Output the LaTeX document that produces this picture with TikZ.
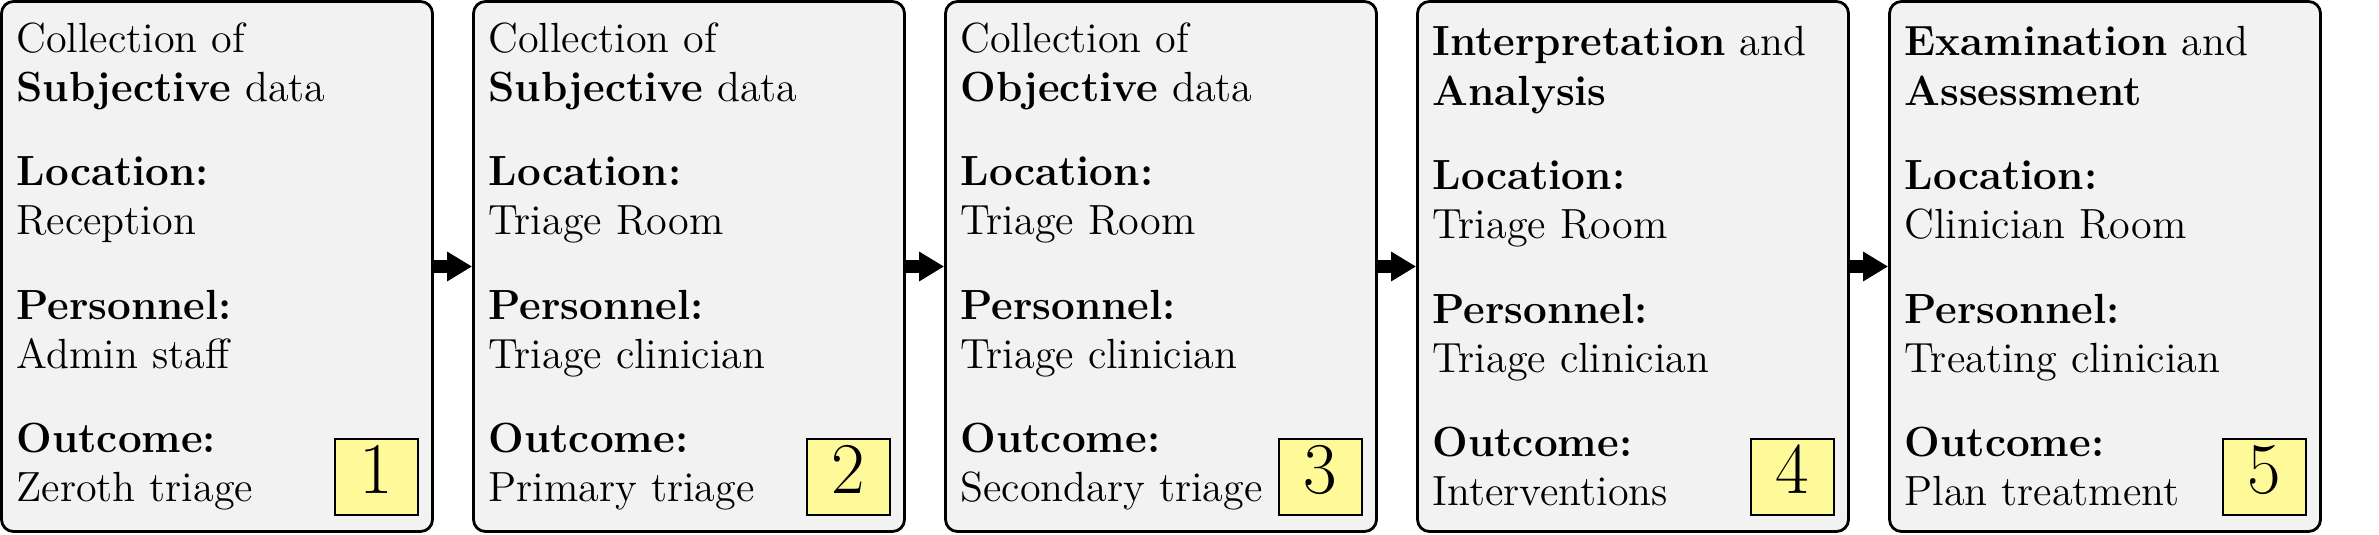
\documentclass[tikz,border=0pt]{standalone}
\usetikzlibrary{arrows.meta}

\tikzset{
  stage/.style={draw, thick, rounded corners=0.12cm, fill=gray!10,
    text width=4.01cm, inner xsep=0.15cm, minimum height=5.30cm,
    align=left, font=\large},
  stagenum/.style={draw, semithick, fill=yellow!40, inner sep=0pt,
    minimum width=0.83cm, minimum height=0.76cm, text depth=4.2pt, font=\huge},
  flow/.style={line width=0.13cm, -{Triangle[length=0.25cm,width=0.28cm]}}
}

\begin{document}
\begin{tikzpicture}
\useasboundingbox (0,0) rectangle (23.79,5.34);

% the five stages
\foreach \head/\place/\staff/\result [count=\i] in {
  {Collection of\\\textbf{Subjective} data}/{Reception}/{Admin staff}/{Zeroth triage},
  {Collection of\\\textbf{Subjective} data}/{Triage Room}/{Triage clinician}/{Primary triage},
  {Collection of\\\textbf{Objective} data}/{Triage Room}/{Triage clinician}/{Secondary triage},
  {\textbf{Interpretation} and\\\textbf{Analysis}}/{Triage Room}/{Triage clinician}/{Interventions},
  {\textbf{Examination} and\\\textbf{Assessment}}/{Clinician Room}/{Treating clinician}/{Plan treatment}}
  {
    \node[stage] (s\i) at ({2.17+(\i-1)*4.72},2.675)
      {\head\\[10pt]
       \textbf{Location:}\\\place\\[10pt]
       \textbf{Personnel:}\\\staff\\[10pt]
       \textbf{Outcome:}\\\result};
    \node[stagenum, anchor=south east] (n\i) at ([shift={(-0.15,0.17)}]s\i.south east) {\i};
  }

% arrows between stages
\foreach \i/\j in {1/2,2/3,3/4,4/5}
  \draw[flow] (s\i.east) -- (s\j.west);
\end{tikzpicture}
\end{document}
